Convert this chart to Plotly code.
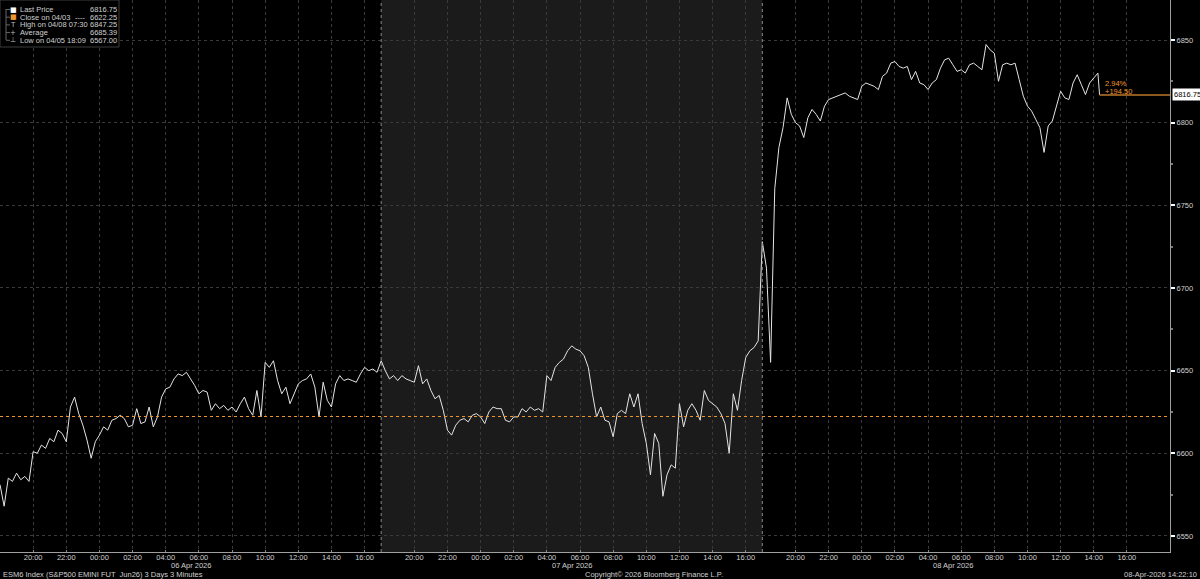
import pandas as pd
import plotly.graph_objects as go

# ESM6 last price, sampled every 15 minutes, one list per trading session (18:00 -> 17:00)
session_starts = ["2026-04-05 18:00", "2026-04-06 18:00", "2026-04-07 18:00"]
session_labels = ["06 Apr 2026", "07 Apr 2026", "08 Apr 2026"]
session_mids = ["2026-04-06 05:30", "2026-04-07 05:30", "2026-04-08 05:30"]

apr06_prices = [
    6581, 6568, 6585, 6583, 6588, 6584, 6586, 6583, 6601, 6600, 6605, 6603,
    6609, 6607, 6614, 6612, 6607, 6628, 6634, 6624, 6617, 6608, 6597, 6607,
    6611, 6616, 6614, 6620, 6621, 6623, 6621, 6616, 6617, 6627, 6618, 6619,
    6628, 6616, 6622, 6634, 6639, 6640, 6645, 6648, 6647, 6649, 6645, 6641,
    6636, 6638, 6637, 6626, 6630, 6627, 6629, 6626, 6628, 6625, 6630, 6634,
    6627, 6623, 6638, 6622, 6655, 6652, 6656, 6644, 6636, 6640, 6630, 6636,
    6642, 6644, 6645, 6648, 6640, 6622, 6643, 6632, 6628, 6642, 6647, 6644,
    6645, 6644, 6643, 6648, 6652, 6650, 6651, 6649,
]
apr07_prices = [
    6656, 6650, 6645, 6647, 6644, 6647, 6645, 6644, 6643, 6653, 6642, 6645,
    6638, 6633, 6635, 6626, 6614, 6611, 6617, 6620, 6621, 6619, 6623, 6624,
    6622, 6618, 6625, 6628, 6627, 6627, 6620, 6619, 6622, 6622, 6627, 6625,
    6628, 6626, 6627, 6625, 6647, 6644, 6652, 6655, 6657, 6662, 6665, 6663,
    6662, 6659, 6652, 6636, 6622, 6628, 6620, 6619, 6610, 6624, 6626, 6624,
    6636, 6628, 6636, 6618, 6606, 6587, 6612, 6606, 6574, 6587, 6593, 6591,
    6630, 6616, 6626, 6630, 6626, 6620, 6638, 6632, 6630, 6628, 6624, 6618,
    6600, 6636, 6626, 6644, 6658, 6662, 6664, 6668,
]
apr08_prices = [
    6728, 6712, 6655, 6760, 6785, 6797, 6815, 6805, 6800, 6798, 6791, 6803,
    6808, 6805, 6801, 6810, 6814, 6815, 6816, 6817, 6818, 6816, 6815, 6814,
    6822, 6824, 6823, 6822, 6820, 6828, 6830, 6836, 6837, 6834, 6833, 6834,
    6826, 6831, 6824, 6823, 6820, 6824, 6826, 6833, 6838, 6839, 6835, 6831,
    6832, 6830, 6835, 6836, 6834, 6832, 6847.25, 6844, 6842, 6825, 6835, 6836,
    6835, 6836, 6826, 6816, 6810, 6807, 6802, 6797, 6782, 6798, 6801, 6810,
    6819, 6815, 6814, 6824, 6829, 6823, 6817, 6824, 6827, 6830,
]
last_time = "2026-04-08 14:21"
last_price = 6816.75
prev_close = 6622.25
change_pct = "2.94%"
change_pts = "+194.50"

legend_marks = ["■", "■", "T", "+", "⊥"]
legend_mark_colors = ["#ffffff", "#f0962e", "#bbbbbb", "#bbbbbb", "#bbbbbb"]
legend_labels = ["Last Price", "Close on 04/03", "High on 04/08 07:30", "Average", "Low on 04/05 18:09"]
legend_values = ["6816.75", "6622.25", "6847.25", "6685.39", "6567.00"]

y_ticks = [6550, 6600, 6650, 6700, 6750, 6800, 6850]

footer_left = "ESM6 Index (S&P500 EMINI FUT  Jun26) 3 Days 3 Minutes"
footer_mid = "Copyright© 2026 Bloomberg Finance L.P."
footer_right = "08-Apr-2026 14:22:10"

times = []
prices = []
for start, vals in zip(session_starts, [apr06_prices, apr07_prices, apr08_prices]):
    times += list(pd.date_range(start, periods=len(vals), freq="15min"))
    prices += vals
times.append(pd.Timestamp(last_time))
prices.append(last_price)

x_ticks = [t for t in pd.date_range("2026-04-05 20:00", "2026-04-08 16:00", freq="2h") if t.hour != 18]

PW, PH = 1170, 552
FONT = "Liberation Sans"
TXT = "#d0d0d0"
ORANGE = "#f0962e"


def px(x):
    return x / PW


def py(y):
    return (PH - y) / PH


fig = go.Figure()

fig.add_trace(go.Scatter(
    x=times,
    y=prices,
    mode="lines",
    line=dict(color="#e4e4e4", width=1),
    hoverinfo="skip",
))

shapes = [
    # shaded middle session
    dict(type="rect", xref="x", yref="paper", x0=session_starts[1], x1="2026-04-07 17:00",
         y0=0, y1=1, fillcolor="#1b1b1b", line_width=0, layer="below"),
    # session dividers
    dict(type="line", xref="x", yref="paper", x0=session_starts[1], x1=session_starts[1],
         y0=0, y1=1, line=dict(color="#8a8a8a", width=1, dash="dot")),
    dict(type="line", xref="x", yref="paper", x0=session_starts[2], x1=session_starts[2],
         y0=0, y1=1, line=dict(color="#8a8a8a", width=1, dash="dot")),
    # previous close
    dict(type="line", xref="paper", yref="y", x0=0, x1=1, y0=prev_close, y1=prev_close,
         line=dict(color=ORANGE, width=1, dash="dot")),
    # last price marker line
    dict(type="line", xref="x", yref="y", x0=last_time, x1="2026-04-08 19:36",
         y0=last_price, y1=last_price, line=dict(color="#8c5a1e", width=2)),
    # legend box
    dict(type="rect", xref="paper", yref="paper", x0=0, x1=px(119), y0=py(47), y1=1,
         fillcolor="#000000", line=dict(color="#3c3c3c", width=1)),
    dict(type="line", xref="paper", yref="paper", x0=px(6), x1=px(6), y0=py(40), y1=py(9),
         line=dict(color="#666666", width=1)),
]

annotations = []
row_y = [9.5, 17.2, 24.9, 32.6, 40.3]
for ry, mark, mcol, lab, val in zip(row_y, legend_marks, legend_mark_colors, legend_labels, legend_values):
    shapes.append(dict(type="line", xref="paper", yref="paper", x0=px(6), x1=px(10),
                       y0=py(ry), y1=py(ry), line=dict(color="#666666", width=1)))
    annotations.append(dict(xref="paper", yref="paper", x=px(13), y=py(ry), text=mark,
                            showarrow=False, xanchor="center", yanchor="middle",
                            font=dict(family="DejaVu Sans", size=7, color=mcol)))
    annotations.append(dict(xref="paper", yref="paper", x=px(18), y=py(ry), text=lab,
                            showarrow=False, xanchor="left", yanchor="middle",
                            font=dict(family=FONT, size=7.5, color=TXT)))
    annotations.append(dict(xref="paper", yref="paper", x=px(119), y=py(ry), text=val,
                            showarrow=False, xanchor="right", yanchor="middle",
                            font=dict(family=FONT, size=7.5, color=TXT)))
annotations.append(dict(xref="paper", yref="paper", x=px(73), y=py(row_y[1]), text="----",
                        showarrow=False, xanchor="left", yanchor="middle",
                        font=dict(family=FONT, size=7.5, color=TXT)))

for mid, lab in zip(session_mids, session_labels):
    annotations.append(dict(xref="x", yref="paper", x=mid, y=py(566), text=lab,
                            showarrow=False, xanchor="center", yanchor="middle",
                            font=dict(family=FONT, size=7.5, color=TXT)))

annotations += [
    dict(xref="paper", yref="paper", x=px(1), y=py(574.5), text=footer_left, showarrow=False,
         xanchor="left", yanchor="middle", font=dict(family=FONT, size=7.5, color=TXT)),
    dict(xref="paper", yref="paper", x=px(654), y=py(574.5), text=footer_mid, showarrow=False,
         xanchor="center", yanchor="middle", font=dict(family=FONT, size=7.5, color=TXT)),
    dict(xref="paper", yref="paper", x=px(1199), y=py(574.5), text=footer_right, showarrow=False,
         xanchor="right", yanchor="middle", font=dict(family=FONT, size=7.5, color=TXT)),
    dict(xref="paper", yref="y", x=1, xshift=2, y=last_price, text=f"{last_price:.2f}",
         showarrow=False, xanchor="left", yanchor="middle", bgcolor="#ffffff", borderpad=1,
         font=dict(family=FONT, size=7.5, color="#000000")),
    dict(xref="x", yref="y", x=last_time, xshift=3, y=last_price, yshift=11, text=change_pct,
         showarrow=False, xanchor="left", yanchor="middle", font=dict(family=FONT, size=7.5, color=ORANGE)),
    dict(xref="x", yref="y", x=last_time, xshift=3, y=last_price, yshift=3, text=change_pts,
         showarrow=False, xanchor="left", yanchor="middle", font=dict(family=FONT, size=7.5, color=ORANGE)),
]

fig.update_layout(
    width=1200,
    height=579,
    margin=dict(l=0, r=30, t=0, b=27),
    paper_bgcolor="#000000",
    plot_bgcolor="#000000",
    showlegend=False,
    shapes=shapes,
    annotations=annotations,
    xaxis=dict(
        type="date",
        range=[session_starts[0], "2026-04-08 19:36"],
        rangebreaks=[dict(bounds=[17, 18], pattern="hour")],
        tickvals=x_ticks,
        tickformat="%H:%M",
        tickfont=dict(family=FONT, size=7.5, color=TXT),
        ticks="inside",
        ticklen=2,
        tickcolor="#888888",
        ticklabelstandoff=-2,
        showgrid=True,
        gridcolor="#3a3a3a",
        griddash="dot",
        showline=True,
        linecolor="#a0a0a0",
        linewidth=1,
        zeroline=False,
    ),
    yaxis=dict(
        side="right",
        range=[6540.3, 6874.2],
        tickvals=y_ticks,
        tickfont=dict(family=FONT, size=7.5, color=TXT),
        ticks="outside",
        ticklen=4,
        tickwidth=2,
        tickcolor="#ffffff",
        minor=dict(dtick=25, ticks="outside", ticklen=2, tickcolor="#777777", showgrid=False),
        showgrid=True,
        gridcolor="#3a3a3a",
        griddash="dot",
        showline=True,
        linecolor="#a0a0a0",
        linewidth=1,
        zeroline=False,
    ),
)

fig.write_html("out.html", config={"displayModeBar": False},
               post_script="document.body.style.margin='0';")
